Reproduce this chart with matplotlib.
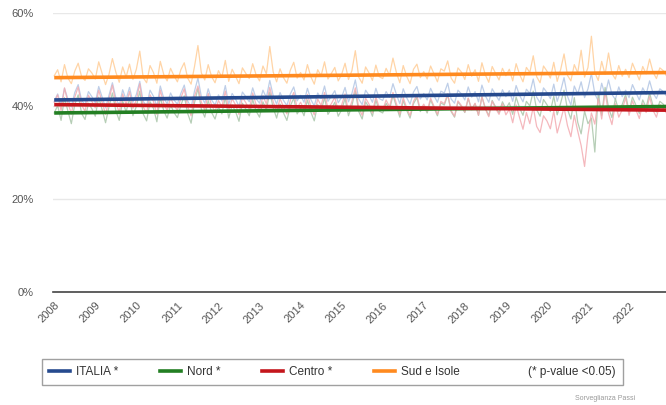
import numpy as np
import matplotlib.pyplot as plt
from matplotlib.lines import Line2D

plt.rcParams['font.family'] = ['Liberation Sans', 'DejaVu Sans']

# monthly prevalence, Jan 2008 .. Jan 2023 (percent)
sud = [
    46.5, 47.8, 45.2, 48.9, 46.0, 44.8, 47.5, 49.2, 46.3, 45.5, 48.0, 47.1,
    45.8, 49.5, 47.0, 44.6, 46.8, 50.2, 47.3, 45.1, 48.4, 46.2, 49.0, 45.7,
    47.9, 51.8, 46.1, 45.0, 48.7, 47.2, 44.9, 49.6, 46.8, 45.4, 48.1, 46.5,
    45.2, 47.8, 49.3, 46.0, 44.7, 48.5, 53.0, 47.1, 45.6, 48.9, 46.3, 45.0,
    47.6, 46.2, 49.8, 45.3, 47.9, 46.4, 44.8, 48.2, 47.0, 45.9, 49.1, 46.7,
    45.4, 48.6, 46.9, 52.8, 47.3, 45.2, 48.0, 46.1, 44.9, 47.7, 49.4, 46.0,
    47.2, 45.6, 48.9, 46.3, 44.7, 47.8, 46.5, 49.5, 45.8, 47.0, 48.3, 45.4,
    46.8, 49.2, 45.7, 47.6, 51.9, 46.2, 44.9, 48.4, 47.1, 45.5, 48.8, 46.3,
    45.9, 48.1, 46.6, 50.3, 47.2, 45.0, 48.7, 46.4, 44.8, 47.9, 49.0, 46.1,
    47.4, 45.8, 48.6, 46.9, 45.2, 48.0, 47.5, 49.7, 46.0, 44.9, 48.2, 47.3,
    45.7, 48.9, 46.4, 47.8, 45.3, 49.3, 46.7, 45.1, 48.5, 47.0, 45.6, 48.1,
    46.5, 47.9, 45.4, 49.1, 46.8, 45.2, 48.3, 47.2, 50.8, 46.3, 45.0, 48.6,
    47.5, 46.0, 49.4, 45.3, 47.8, 51.2, 46.6, 45.4, 48.9, 47.1, 52.0, 46.2,
    48.3, 55.0, 47.2, 45.5, 49.6, 46.8, 51.4, 47.0, 45.8, 48.7, 46.4, 47.9,
    46.1, 49.2, 47.4, 45.6, 48.5, 46.9, 50.1, 47.3, 45.9, 48.2, 47.6, 46.4,
    47.0,
]
italia = [
    41.0, 42.6, 40.2, 43.8, 41.5, 39.8, 42.9, 44.6, 41.2, 40.3, 43.1, 42.0,
    40.7, 44.2, 41.9, 39.6, 42.3, 45.0, 41.8, 40.1, 43.5, 41.4, 44.0, 40.8,
    42.5, 45.3, 41.0, 40.0, 43.4, 42.1, 39.9, 44.3, 41.7, 40.5, 42.8, 41.3,
    40.4, 42.7, 44.5, 41.1, 39.7, 43.2, 46.0, 42.0, 40.6, 43.7, 41.3, 40.2,
    42.4, 41.1, 44.4, 40.4, 42.7, 41.5, 39.9, 43.0, 42.0, 40.9, 43.9, 41.6,
    40.6, 43.4, 41.8, 45.5, 42.2, 40.4, 42.9, 41.2, 40.1, 42.6, 44.1, 41.1,
    42.3, 40.8, 43.8, 41.4, 40.0, 42.8, 41.6, 44.3, 41.0, 42.1, 43.3, 40.7,
    41.9, 44.0, 40.9, 42.7, 45.6, 41.5, 40.3, 43.4, 42.3, 40.8, 43.8, 41.6,
    41.2, 43.1, 41.9, 44.8, 42.5, 40.5, 43.7, 41.8, 40.4, 43.0, 44.2, 41.5,
    42.7, 41.3, 43.8, 42.2, 40.8, 43.2, 42.8, 44.9, 41.5, 40.6, 43.4, 42.6,
    41.3, 44.1, 41.9, 43.1, 40.9, 44.5, 42.2, 40.8, 43.7, 42.4, 41.2, 43.5,
    42.0, 43.3, 41.0, 44.4, 42.3, 40.9, 43.6, 42.7, 45.8, 41.9, 40.7, 43.9,
    42.9, 41.6, 44.7, 41.0, 43.2, 46.1, 42.1, 40.2, 44.3, 42.6, 45.2, 41.8,
    43.7, 47.0, 42.6, 41.1, 44.9, 42.3, 45.6, 42.5, 41.4, 44.1, 42.0, 43.4,
    41.8, 44.6, 42.9, 41.3, 43.9, 42.5, 45.4, 42.8, 41.6, 43.7, 43.1, 42.1,
    42.6,
]
nord = [
    38.5, 40.1, 36.9, 41.8, 38.9, 36.2, 40.3, 42.4, 38.4, 37.1, 40.6, 39.4,
    37.8, 41.9, 39.2, 36.4, 39.8, 42.8, 39.0, 36.9, 41.1, 38.7, 41.6, 37.9,
    39.9, 43.2, 38.3, 36.8, 40.9, 39.5, 36.6, 41.9, 39.0, 37.4, 40.2, 38.6,
    37.5, 40.1, 42.2, 38.4, 36.3, 40.7, 43.8, 39.3, 37.6, 41.2, 38.6, 37.2,
    39.8, 38.3, 41.9, 37.4, 40.2, 38.8, 36.7, 40.6, 39.3, 37.9, 41.4, 38.9,
    37.6, 40.9, 39.1, 43.0, 39.6, 37.4, 40.4, 38.5, 36.9, 40.0, 41.7, 38.3,
    39.6, 37.9, 41.3, 38.7, 36.8, 40.3, 38.9, 41.8, 38.2, 39.4, 40.8, 37.8,
    39.2, 41.6, 37.9, 40.1, 43.2, 38.8, 37.2, 40.9, 39.7, 37.8, 41.3, 38.9,
    38.5, 40.6, 39.2, 42.3, 39.9, 37.6, 41.2, 39.1, 37.4, 40.5, 41.8, 38.8,
    40.0, 38.5, 41.3, 39.6, 37.9, 40.7, 40.2, 42.4, 38.8, 37.6, 40.9, 39.9,
    38.6, 41.6, 39.2, 40.5, 38.0, 42.0, 39.5, 37.9, 41.2, 39.8, 38.5, 40.9,
    39.4, 40.7, 38.2, 41.9, 39.6, 38.0, 41.0, 40.0, 43.2, 39.2, 37.8, 41.4,
    40.3, 38.8, 42.1, 38.1, 40.6, 43.4, 39.3, 37.2, 41.8, 36.5, 34.0, 38.9,
    36.2, 37.4, 30.1, 42.8, 38.0, 44.0, 39.6, 37.5, 41.6, 38.9, 40.3, 42.5,
    38.8, 41.9, 40.2, 38.4, 41.3, 39.7, 42.8, 40.1, 38.7, 41.0, 40.4, 39.3,
    40.0,
]
centro = [
    40.8, 42.4, 39.0, 43.9, 40.7, 38.3, 41.9, 44.1, 40.2, 38.9, 42.3, 41.0,
    39.6, 43.4, 40.8, 38.2, 41.4, 44.5, 40.7, 38.6, 42.6, 40.3, 43.1, 39.5,
    41.3, 44.8, 39.8, 38.5, 42.4, 41.0, 38.2, 43.4, 40.6, 39.0, 41.8, 40.1,
    39.1, 41.7, 43.7, 39.9, 37.9, 42.1, 44.3, 40.8, 39.1, 42.7, 40.1, 38.8,
    41.2, 39.8, 43.2, 38.9, 41.6, 40.2, 38.2, 41.9, 40.7, 39.3, 42.8, 40.3,
    39.0, 42.2, 40.4, 44.0, 40.9, 38.8, 41.6, 39.8, 38.3, 41.2, 42.9, 39.6,
    40.8, 39.2, 42.5, 39.9, 38.1, 41.5, 40.1, 42.9, 39.4, 40.5, 41.9, 38.9,
    40.2, 42.6, 38.8, 41.0, 43.9, 39.6, 38.0, 41.7, 40.4, 38.5, 42.0, 39.6,
    39.1, 41.3, 39.8, 42.9, 40.5, 38.2, 41.8, 39.6, 37.9, 41.0, 42.3, 39.2,
    40.4, 38.9, 41.7, 39.9, 38.2, 41.0, 40.5, 42.6, 39.0, 37.8, 41.1, 40.1,
    38.7, 41.7, 39.3, 40.6, 38.0, 42.0, 39.4, 37.7, 41.0, 39.5, 38.2, 40.5,
    38.1, 39.3, 36.4, 40.2, 37.5, 35.0, 38.6, 36.2, 39.8, 35.6, 34.3, 37.9,
    36.8, 35.1, 38.9, 34.2, 36.9, 39.7, 35.8, 33.4, 38.0, 34.6, 31.5, 27.0,
    33.8, 38.5, 36.1, 41.6, 37.2, 43.0, 38.4, 36.0, 40.5, 37.6, 39.2, 41.8,
    38.0, 41.1, 39.2, 37.3, 40.5, 38.6, 42.0, 39.1, 37.6, 40.3, 39.5, 38.4,
    39.2,
]

# linear trend, value at start (2008) and end (2023)
trend_years = [2008.0, 2023.0]
trend_italia = [41.3, 42.9]
trend_nord = [38.5, 39.9]
trend_centro = [40.3, 39.1]
trend_sud = [46.1, 47.2]

years = list(range(2008, 2023))
labels = ['ITALIA *', 'Nord *', 'Centro *', 'Sud e Isole']
dark = ['#264a8e', '#237f23', '#c4161c', '#ff8a1f']
light = ['#b3c6e4', '#aac6aa', '#f3acb2', '#ffcd97']

t = 2008 + np.arange(len(italia)) / 12.0

fig = plt.figure(figsize=(6.66, 4.05), dpi=100)
ax = fig.add_axes([53 / 666, 1 - 292 / 405, 1 - 53 / 666, (292 - 13) / 405])

for s, c in zip([italia, nord, centro, sud], light):
    ax.plot(t, np.array(s) / 100, color=c, lw=0.9, alpha=0.85, zorder=2)
for tr, c in zip([trend_italia, trend_nord, trend_centro, trend_sud], dark):
    ax.plot(trend_years, np.array(tr) / 100, color=c, lw=2.6, zorder=3,
            solid_capstyle='butt')

ax.set_xlim(2007.97, 2022.9)
ax.set_ylim(0, 0.6)
ax.set_yticks([0, 0.2, 0.4, 0.6])
ax.set_yticklabels(['0%', '20%', '40%', '60%'])
ax.set_xticks(years)
ax.set_xticklabels([str(y) for y in years], rotation=45, ha='right',
                   va='top', rotation_mode='anchor')
ax.tick_params(axis='both', length=0, labelsize=8, colors='#555555')
ax.tick_params(axis='x', pad=6)
ax.tick_params(axis='y', pad=14)

ax.grid(axis='y', color='#e8e8e8', lw=1.0, zorder=0)
ax.grid(axis='x', visible=False)
for sp in ['top', 'right', 'left']:
    ax.spines[sp].set_visible(False)
ax.spines['bottom'].set_color('#444444')
ax.spines['bottom'].set_linewidth(1.2)
ax.spines['bottom'].set_zorder(5)

handles = [Line2D([], [], color=c, lw=2.6) for c in dark]
handles.append(Line2D([], [], color='none'))
leg = fig.legend(handles, labels + ['(* p-value <0.05)'], ncol=5,
                 loc='center left',
                 bbox_to_anchor=(42 / 666, 1 - 372 / 405),
                 fontsize=8.5, frameon=True, fancybox=False,
                 handlelength=1.8, handletextpad=0.5, columnspacing=3.5,
                 borderpad=0.6, borderaxespad=0.0,
                 labelcolor='#333333')
leg.get_frame().set_edgecolor('#888888')
leg.get_frame().set_linewidth(1.0)

fig.text(575 / 666, 1 - 398 / 405, 'Sorveglianza Passi', fontsize=5,
         color='#9a9a9a', ha='left', va='center')

fig.savefig('out.png', dpi=100, facecolor='white')
